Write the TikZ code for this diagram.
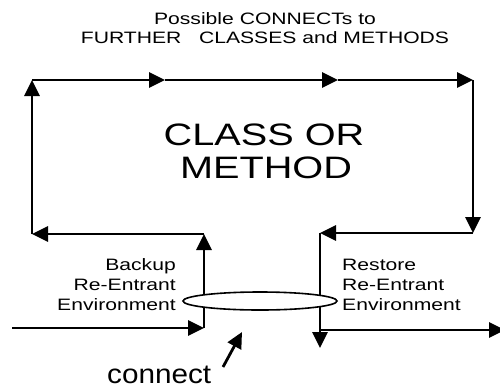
\documentclass[tikz,border=0pt]{standalone}
\usepackage{fontspec}
\setmainfont{Liberation Sans}
\newfontfamily\wide[FakeStretch=1.28]{Liberation Sans}
\newfontfamily\widec[FakeStretch=1.1]{Liberation Sans}
\usetikzlibrary{arrows.meta,shapes.geometric}
\begin{document}
\begin{tikzpicture}[x=1pt,y=-1pt,
  flow/.style={line width=2.8pt,-{Triangle[length=16pt,width=15pt]}},
  small/.style={font=\wide\fontsize{16.5}{19.5}\selectfont,inner sep=0pt},
  big/.style={font=\wide\fontsize{31}{34}\selectfont,inner sep=0pt,anchor=base},
  ring/.style={ellipse,draw,line width=1.6pt,fill=white,minimum width=154pt,minimum height=18pt,inner sep=0pt}]
\useasboundingbox (0,0) rectangle (500,389);
\clip (0,0) rectangle (500,389);
% text
\node[small,anchor=base] (t1) at (265,24) {Possible CONNECTs to};
\node[small,anchor=base] (t2) at (265,43) {FURTHER\ \ \ CLASSES and METHODS};
\node[big] (m1) at (264,145) {CLASS OR};
\node[big] (m2) at (266,178) {METHOD};
\node[small,anchor=base east] (b1) at (176,270) {Backup};
\node[small,anchor=base east] (b2) at (176,290) {Re-Entrant};
\node[small,anchor=base east] (b3) at (176,310) {Environment};
\node[small,anchor=base west] (r1) at (342,270) {Restore};
\node[small,anchor=base west] (r2) at (342,290) {Re-Entrant};
\node[small,anchor=base west] (r3) at (342,310) {Environment};
\node[font=\widec\fontsize{27}{30}\selectfont,inner sep=0pt,anchor=base west] (cn) at (107,383) {connect};
% coordinates
\coordinate (in) at (12,328);
\coordinate (bl) at (204,328);
\coordinate (bt) at (204,234);
\coordinate (ll) at (32,234);
\coordinate (tl) at (32,80);
\coordinate (t1a) at (165,80);
\coordinate (t2a) at (338,80);
\coordinate (tr) at (473,80);
\coordinate (rb) at (473,233);
\coordinate (rt) at (320,233);
\coordinate (rd) at (320,348);
\coordinate (ro) at (320,330);
\coordinate (out) at (505,330);
\coordinate (ca) at (223,367);
\coordinate (cb) at (242,332);
% connectors
\draw[flow] (in) -- (bl);
\draw[flow] (bl) -- (bt);
\draw[flow] (bt) -- (ll);
\draw[flow] (ll) -- (tl);
\draw[flow] (tl) -- (t1a);
\draw[flow] (t1a) -- (t2a);
\draw[flow] (t2a) -- (tr);
\draw[flow] (tr) -- (rb);
\draw[flow] (rb) -- (rt);
\draw[flow] (rt) -- (rd);
\draw[flow] (ro) -- (out);
\draw[flow] (ca) -- (cb);
\node[ring] (env) at (260,301) {};
\end{tikzpicture}
\end{document}
